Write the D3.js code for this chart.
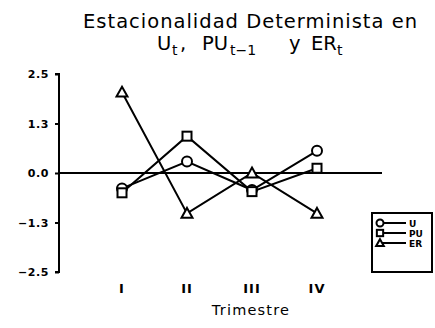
<!DOCTYPE html>
<html>
<head>
<meta charset="utf-8">
<script src="https://cdn.jsdelivr.net/npm/d3@7"></script>
<style>
  body { margin: 0; background: #fff; }
  svg { display: block; }
  text { font-family: "DejaVu Sans", sans-serif; fill: #000; }
</style>
</head>
<body>
<svg id="chart" width="435" height="328"></svg>
<script>
// datos
const trimestres = ['I', 'II', 'III', 'IV'];
const serieU = [-0.39, 0.29, -0.43, 0.56];
const seriePU = [-0.50, 0.93, -0.47, 0.12];
const serieER = [2.04, -1.02, 0.0, -1.02];
const yTicks = [-2.5, -1.25, 0, 1.25, 2.5];
const yTickLabels = ['\u22122.5', '\u22121.3', '0.0', '1.3', '2.5'];

const svg = d3.select('#chart');

const x = d3.scaleLinear().domain([0, 5]).range([57, 382]);
const y = d3.scaleLinear().domain([-2.5, 2.5]).range([272, 74]);

// titulo
svg.append('text')
  .attr('x', 83).attr('y', 28)
  .attr('textLength', 334)
  .attr('lengthAdjust', 'spacing')
  .style('font-size', '19.5px')
  .text('Estacionalidad Determinista en');

const t2 = svg.append('text').attr('y', 50).style('font-size', '19.5px');
const sub = (sel, txt, xx) => sel.append('tspan').attr('x', xx).attr('y', 55)
  .style('font-size', '14px').text(txt);
const main = (sel, txt, xx) => sel.append('tspan').attr('x', xx).attr('y', 50).text(txt);
main(t2, 'U', 157);
sub(t2, 't', 172);
main(t2, ',', 180);
main(t2, 'PU', 202);
sub(t2, 't\u22121', 230);
main(t2, 'y', 289);
main(t2, 'ER', 311);
sub(t2, 't', 337);

// eje y
const yAxis = d3.axisLeft(y)
  .tickValues(yTicks)
  .tickFormat((d, i) => yTickLabels[i])
  .tickSize(4)
  .tickPadding(6);

const gy = svg.append('g')
  .attr('transform', 'translate(59,0)')
  .call(yAxis);
gy.select('.domain').attr('stroke', '#000').attr('stroke-width', 2)
  .attr('d', `M-4,${y(2.5)}H0V${y(-2.5)}H-4`);
gy.selectAll('.tick line').attr('stroke', '#000').attr('stroke-width', 2);
gy.selectAll('.tick text')
  .style('font-family', '"DejaVu Sans", sans-serif')
  .style('font-size', '11px')
  .style('font-weight', 'bold')
  .style('letter-spacing', '0.6px');

// linea cero
svg.append('line')
  .attr('x1', 59).attr('x2', x(5))
  .attr('y1', y(0)).attr('y2', y(0))
  .attr('stroke', '#000').attr('stroke-width', 2);

// etiquetas del eje x
svg.append('g').selectAll('text')
  .data(trimestres)
  .join('text')
  .attr('x', (d, i) => x(i + 1))
  .attr('y', 293)
  .attr('text-anchor', 'middle')
  .style('font-size', '13px')
  .style('font-weight', 'bold')
  .style('letter-spacing', '1px')
  .text(d => d);

svg.append('text')
  .attr('x', 251).attr('y', 315)
  .attr('text-anchor', 'middle')
  .style('font-size', '14.5px')
  .style('letter-spacing', '1.2px')
  .text('Trimestre');

const line = d3.line().x((d, i) => x(i + 1)).y(d => y(d));

const series = [
  { name: 'U', values: serieU, shape: 'circle' },
  { name: 'PU', values: seriePU, shape: 'square' },
  { name: 'ER', values: serieER, shape: 'triangle' }
];

function drawMarker(g, shape, cx, cy, s) {
  if (shape === 'circle') {
    g.append('circle').attr('cx', cx).attr('cy', cy).attr('r', 5 * s)
      .attr('fill', '#fff').attr('stroke', '#000').attr('stroke-width', 2);
  } else if (shape === 'square') {
    const h = 4.5 * s;
    g.append('rect').attr('x', cx - h).attr('y', cy - h)
      .attr('width', 2 * h).attr('height', 2 * h)
      .attr('fill', '#fff').attr('stroke', '#000').attr('stroke-width', 2);
  } else {
    const h = 5.5 * s;
    g.append('path')
      .attr('d', `M${cx},${cy - h}L${cx + h},${cy + h * 0.8}L${cx - h},${cy + h * 0.8}Z`)
      .attr('fill', '#fff').attr('stroke', '#000').attr('stroke-width', 2)
      .attr('stroke-linejoin', 'miter');
  }
}

series.forEach(s => {
  svg.append('path')
    .datum(s.values)
    .attr('d', line)
    .attr('fill', 'none')
    .attr('stroke', '#000')
    .attr('stroke-width', 2);
});

series.forEach(s => {
  const g = svg.append('g');
  s.values.forEach((v, i) => drawMarker(g, s.shape, x(i + 1), y(v), 1));
});

// leyenda
const lg = svg.append('g');
lg.append('rect')
  .attr('x', 372).attr('y', 213)
  .attr('width', 60).attr('height', 59)
  .attr('fill', '#fff').attr('stroke', '#000').attr('stroke-width', 2);

series.forEach((s, i) => {
  const ly = 223 + i * 10;
  lg.append('line').attr('x1', 379).attr('x2', 406)
    .attr('y1', ly).attr('y2', ly)
    .attr('stroke', '#000').attr('stroke-width', 2);
  drawMarker(lg, s.shape, 380, ly, 0.7);
  lg.append('text')
    .attr('x', 409).attr('y', ly + 3.5)
    .style('font-family', '"DejaVu Sans", sans-serif')
    .style('font-size', '9px')
    .style('font-weight', 'bold')
    .text(s.name);
});
</script>
</body>
</html>
